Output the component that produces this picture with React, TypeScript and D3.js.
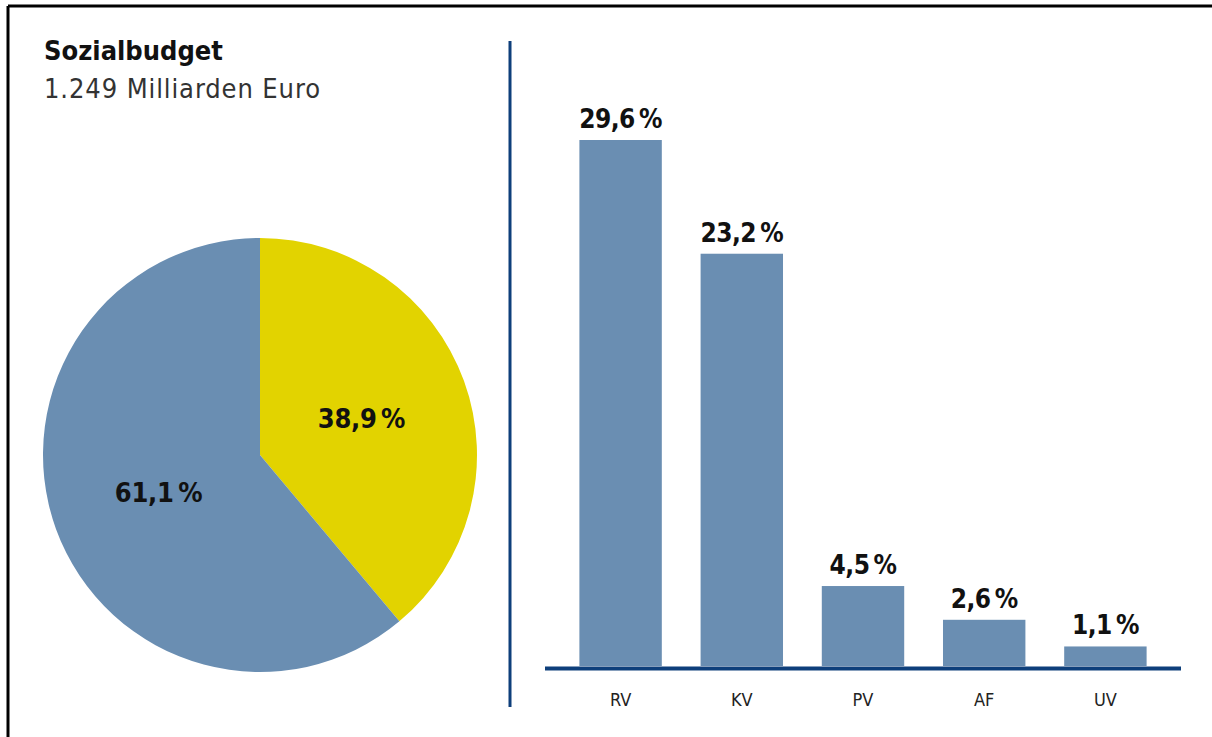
import React from "react";
import * as d3 from "d3";

const title = "Sozialbudget";
const subtitle = "1.249 Milliarden Euro";

const pieLabels = ["38,9", "61,1"];
const pieValues = [38.9, 61.1];
const pieColors = ["#e2d300", "#6a8eb2"];

const categories = ["RV", "KV", "PV", "AF", "UV"];
const barValues = [29.6, 23.2, 4.5, 2.6, 1.1];
const barLabels = ["29,6", "23,2", "4,5", "2,6", "1,1"];

const W = 1212;
const H = 737;
const FONT = "'DejaVu Sans Condensed', 'Roboto', 'DejaVu Sans', sans-serif";

export default function App() {
  const cx = 260, cy = 455, r = 217;
  const pie = d3.pie<number>().sort(null).value((d) => d)(pieValues);
  const arc = d3.arc<d3.PieArcDatum<number>>().innerRadius(0).outerRadius(r);
  const labelArc = d3.arc<d3.PieArcDatum<number>>().innerRadius(108).outerRadius(108);

  const x = d3.scaleBand<string>().domain(categories).range([560, 1166]).paddingInner(0.32).paddingOuter(0.16);
  const y = d3.scaleLinear().domain([0, 29.6]).range([666, 140]);

  return (
    <svg width={W} height={H} style={{ position: "absolute", left: 0, top: 0, display: "block", background: "#fff" }}>
      <rect x={0} y={0} width={W} height={H} fill="#fff" />
      {/* frame (top and left visible) */}
      <line x1={8} y1={6} x2={W} y2={6} stroke="#000" strokeWidth={3} />
      <line x1={8} y1={6} x2={8} y2={H} stroke="#000" strokeWidth={3} />

      <text x={44} y={60} fontFamily={FONT} fontWeight="bold" fontSize={27} fill="#111">{title}</text>
      <text x={44} y={98} fontFamily={FONT} fontSize={27} letterSpacing={0.9} fill="#333">{subtitle}</text>

      <g transform={`translate(${cx},${cy})`}>
        {pie.map((d, i) => (
          <path key={i} d={arc(d) || ""} fill={pieColors[i]} />
        ))}
        {pie.map((d, i) => {
          const [lx, ly] = labelArc.centroid(d);
          return (
            <text key={"l" + i} x={lx} y={ly} dy="0.36em" textAnchor="middle" fontFamily={FONT} fontWeight="bold" fontSize={27} letterSpacing={-0.3} fill="#111">
              {pieLabels[i]}{"\u2009%"}
            </text>
          );
        })}
      </g>

      {/* divider */}
      <line x1={510} y1={41} x2={510} y2={707} stroke="#0e3f7b" strokeWidth={3} />

      {categories.map((c, i) => (
        <g key={c}>
          <rect x={x(c)} y={y(barValues[i])} width={x.bandwidth()} height={y(0) - y(barValues[i])} fill="#6a8eb2" />
          <text x={(x(c) || 0) + x.bandwidth() / 2} y={y(barValues[i]) - 12} textAnchor="middle" fontFamily={FONT} fontWeight="bold" fontSize={26} letterSpacing={-0.5} fill="#111">
            {barLabels[i]}{"\u2009%"}
          </text>
          <text x={(x(c) || 0) + x.bandwidth() / 2} y={706} textAnchor="middle" fontFamily={FONT} fontSize={18} fill="#222">
            {c}
          </text>
        </g>
      ))}
      {/* baseline */}
      <line x1={545} y1={668.5} x2={1181} y2={668.5} stroke="#0e3f7b" strokeWidth={4} />
    </svg>
  );
}
